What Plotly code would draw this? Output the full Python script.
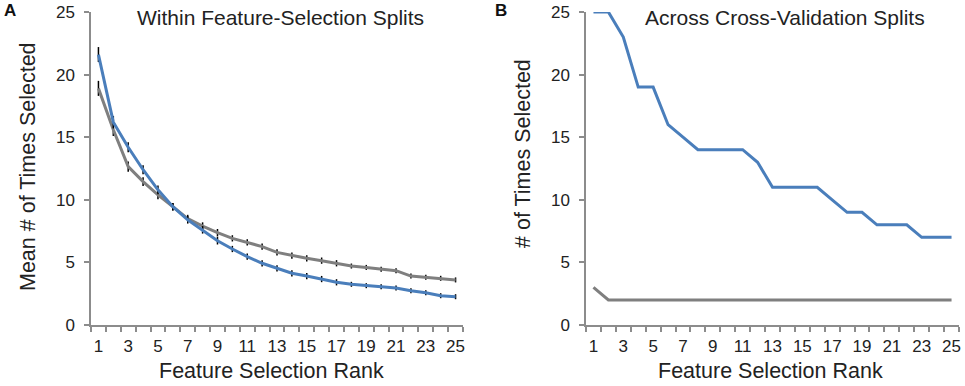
import plotly.graph_objects as go

# ---- data ----
ranks = list(range(1, 26))
tick_labels = [str(r) for r in range(1, 26, 2)]
tick_positions = list(range(1, 26, 2))

within_blue = [21.6, 16.2, 14.2, 12.4, 10.8, 9.45, 8.4, 7.6, 6.73, 6.07, 5.46, 4.93, 4.53,
               4.13, 3.91, 3.67, 3.41, 3.25, 3.14, 3.06, 2.96, 2.74, 2.58, 2.34, 2.26]
within_blue_err = [0.6, 0.5, 0.4, 0.35, 0.35, 0.3, 0.3, 0.3, 0.3, 0.25, 0.25, 0.25, 0.25,
                   0.25, 0.25, 0.25, 0.25, 0.2, 0.2, 0.2, 0.2, 0.2, 0.2, 0.2, 0.2]
within_gray = [18.9, 15.6, 12.65, 11.45, 10.4, 9.45, 8.5, 7.9, 7.37, 6.92, 6.6, 6.26, 5.8,
               5.54, 5.33, 5.14, 4.93, 4.71, 4.6, 4.45, 4.34, 3.91, 3.81, 3.73, 3.6]
within_gray_err = [0.6, 0.5, 0.4, 0.35, 0.35, 0.3, 0.3, 0.3, 0.3, 0.25, 0.25, 0.25, 0.25,
                   0.25, 0.25, 0.25, 0.25, 0.2, 0.2, 0.2, 0.2, 0.2, 0.2, 0.2, 0.2]

across_blue = [25, 25, 23, 19, 19, 16, 15, 14, 14, 14, 14, 13, 11, 11, 11, 11, 10, 9, 9, 8, 8, 8, 7, 7, 7]
across_gray = [3, 2, 2, 2, 2, 2, 2, 2, 2, 2, 2, 2, 2, 2, 2, 2, 2, 2, 2, 2, 2, 2, 2, 2, 2]

y_ticks = [0, 5, 10, 15, 20, 25]

BLUE = "#4a7ebb"
GRAY = "#7f7f7f"
AXIS = "#8c8c8c"
FONT = "Arial, Liberation Sans, sans-serif"
W, H = 965, 386

fig = go.Figure()

fig.add_trace(go.Scatter(x=ranks, y=within_gray, mode="lines", line=dict(color=GRAY, width=3),
                         error_y=dict(type="data", array=within_gray_err, color="black",
                                      thickness=1.5, width=0),
                         xaxis="x", yaxis="y", showlegend=False))
fig.add_trace(go.Scatter(x=ranks, y=within_blue, mode="lines", line=dict(color=BLUE, width=3),
                         error_y=dict(type="data", array=within_blue_err, color="black",
                                      thickness=1.5, width=0),
                         xaxis="x", yaxis="y", showlegend=False))
fig.add_trace(go.Scatter(x=ranks, y=across_gray, mode="lines", line=dict(color=GRAY, width=3),
                         xaxis="x2", yaxis="y2", showlegend=False))
fig.add_trace(go.Scatter(x=ranks, y=across_blue, mode="lines", line=dict(color=BLUE, width=3),
                         xaxis="x2", yaxis="y2", showlegend=False))

ydom = [1 - 325 / H, 1 - 12 / H]


def xaxis_cfg(x0, x1, anchor):
    return dict(domain=[x0 / W, x1 / W], anchor=anchor, range=[0.5, 25.5], automargin=False,
                tickmode="array", tickvals=tick_positions, ticktext=tick_labels,
                ticks="outside", ticklen=5, tickcolor="rgba(0,0,0,0)",
                minor=dict(tickmode="linear", tick0=0.5, dtick=1, ticks="outside",
                           ticklen=5, tickcolor=AXIS, tickwidth=1.5),
                showline=True, linecolor=AXIS, linewidth=1.5, showgrid=False,
                zeroline=False, tickfont=dict(size=17, color="#222", family=FONT),
                fixedrange=True)


def yaxis_cfg(anchor):
    return dict(domain=ydom, anchor=anchor, range=[0, 25], automargin=False,
                tickmode="array", tickvals=y_ticks,
                ticks="outside", ticklen=5, tickcolor=AXIS, tickwidth=1.5,
                showline=True, linecolor=AXIS, linewidth=1.5, showgrid=False, zeroline=False,
                tickfont=dict(size=17, color="#222", family=FONT), ticklabelstandoff=6,
                fixedrange=True)


fig.update_layout(
    width=W, height=H, autosize=False,
    margin=dict(l=0, r=0, t=0, b=0, pad=0),
    paper_bgcolor="white", plot_bgcolor="white",
    font=dict(family=FONT, color="#222"),
    showlegend=False,
    xaxis=xaxis_cfg(91, 463, "y"),
    yaxis=yaxis_cfg("x"),
    xaxis2=xaxis_cfg(586, 959, "y2"),
    yaxis2=yaxis_cfg("x2"),
)

annos = [
    dict(text="Within Feature-Selection Splits", x=280 / W, y=1 - 17 / H, size=21),
    dict(text="Across Cross-Validation Splits", x=785 / W, y=1 - 17 / H, size=21),
    dict(text="Feature Selection Rank", x=271 / W, y=1 - 371 / H, size=21.5),
    dict(text="Feature Selection Rank", x=770 / W, y=1 - 371 / H, size=21.5),
]
for a in annos:
    fig.add_annotation(text=a["text"], x=a["x"], y=a["y"], xref="paper", yref="paper",
                       showarrow=False, xanchor="center", yanchor="middle",
                       font=dict(size=a["size"], family=FONT, color="#222"))

fig.add_annotation(text="Mean # of Times Selected", x=28 / W, y=1 - 167 / H, xref="paper",
                   yref="paper", showarrow=False, textangle=-90, xanchor="center",
                   yanchor="middle", font=dict(size=21.5, family=FONT, color="#222"))
fig.add_annotation(text="# of Times Selected", x=523 / W, y=1 - 154 / H, xref="paper",
                   yref="paper", showarrow=False, textangle=-90, xanchor="center",
                   yanchor="middle", font=dict(size=21.5, family=FONT, color="#222"))

fig.add_annotation(text="<b>A</b>", x=2 / W, y=1 - 11 / H, xref="paper", yref="paper",
                   showarrow=False, xanchor="left", yanchor="middle",
                   font=dict(size=17, family=FONT, color="#111"))
fig.add_annotation(text="<b>B</b>", x=493 / W, y=1 - 11 / H, xref="paper", yref="paper",
                   showarrow=False, xanchor="left", yanchor="middle",
                   font=dict(size=17, family=FONT, color="#111"))

fig.write_html("out.html", config={"displayModeBar": False},
               post_script="document.body.style.margin='0px';document.body.style.overflow='hidden';")
